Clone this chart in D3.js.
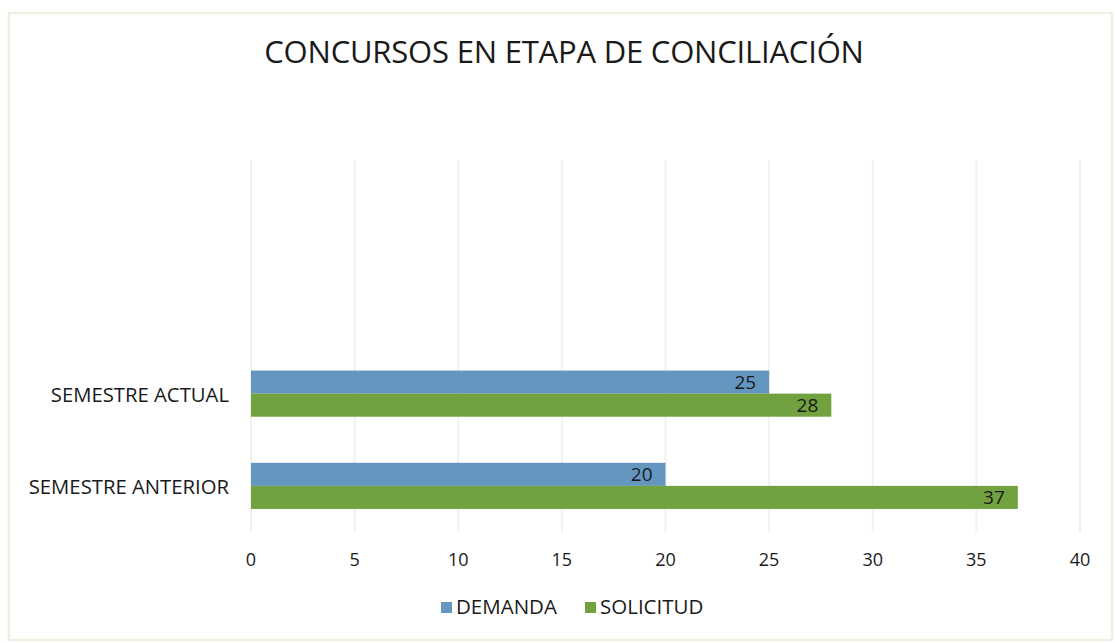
<!DOCTYPE html>
<html>
<head>
<meta charset="utf-8">
<script src="https://cdn.jsdelivr.net/npm/d3@7"></script>
<style>
	body { margin: 0; background: #fff; }
	text { font-family: "Open Sans", "Noto Sans", sans-serif; fill: #1a1a1a; }
</style>
</head>
<body>
<div id="chart"></div>
<script>
var title = "CONCURSOS EN ETAPA DE CONCILIACIÓN";
var categories = ["SEMESTRE ACTUAL", "SEMESTRE ANTERIOR"];
var seriesNames = ["DEMANDA", "SOLICITUD"];
var demanda = [25, 20];
var solicitud = [28, 37];
var xTicks = [0, 5, 10, 15, 20, 25, 30, 35, 40];
var colors = ["#6496c0", "#72a13f"];

var width = 1115, height = 643;
var svg = d3.select("#chart").append("svg")
	.attr("width", width)
	.attr("height", height);

// frame of the scanned chart
svg.append("rect")
	.attr("x", 9).attr("y", 13)
	.attr("width", width - 12).attr("height", height - 16)
	.attr("fill", "none")
	.attr("stroke", "#eef0e2")
	.attr("stroke-width", 2.5);

svg.append("text")
	.attr("x", 564).attr("y", 63)
	.attr("text-anchor", "middle")
	.attr("font-size", 31)
	.attr("letter-spacing", -0.2)
	.text(title);

var plot = {left: 251, right: 1080, top: 163, bottom: 532};

var x = d3.scaleLinear()
	.domain([0, 40])
	.range([plot.left, plot.right]);

// the original chart keeps two empty category slots above the bars
var slots = ["_a", "_b"].concat(categories);
var y = d3.scaleBand()
	.domain(slots)
	.range([plot.top, plot.bottom])
	.paddingInner(0.5)
	.paddingOuter(0.25);
var ySub = d3.scaleBand()
	.domain(seriesNames)
	.range([0, y.bandwidth()]);

// gridlines
svg.append("g")
	.selectAll("line")
	.data(xTicks)
	.enter()
		.append("line")
		.attr("x1", function(d) { return x(d); })
		.attr("x2", function(d) { return x(d); })
		.attr("y1", plot.top - 3)
		.attr("y2", plot.bottom)
		.attr("stroke", "#f1f2e8")
		.attr("stroke-width", 2);

// x tick labels
svg.append("g")
	.selectAll("text")
	.data(xTicks)
	.enter()
		.append("text")
		.attr("x", function(d) { return x(d); })
		.attr("y", 566)
		.attr("text-anchor", "middle")
		.attr("font-size", 18)
		.attr("fill", "#333")
		.text(function(d) { return d; });

// category labels
svg.append("g")
	.selectAll("text")
	.data(categories)
	.enter()
		.append("text")
		.attr("x", 229)
		.attr("y", function(d) { return y(d) + y.bandwidth() / 2 + 8; })
		.attr("text-anchor", "end")
		.attr("font-size", 20.3)
		.text(function(d) { return d; });

var rows = [];
categories.forEach(function(c, i) {
	rows.push({cat: c, series: seriesNames[0], value: demanda[i], color: colors[0]});
	rows.push({cat: c, series: seriesNames[1], value: solicitud[i], color: colors[1]});
});

var bars = svg.append("g")
	.selectAll("g")
	.data(rows)
	.enter()
		.append("g");
bars.append("rect")
	.attr("x", x(0))
	.attr("y", function(d) { return y(d.cat) + ySub(d.series); })
	.attr("width", function(d) { return x(d.value) - x(0); })
	.attr("height", ySub.bandwidth())
	.attr("fill", function(d) { return d.color; });
bars.append("text")
	.attr("x", function(d) { return x(d.value) - 13; })
	.attr("y", function(d) { return y(d.cat) + ySub(d.series) + ySub.bandwidth() / 2 + 7; })
	.attr("text-anchor", "end")
	.attr("font-size", 19)
	.attr("fill", "#333")
	.text(function(d) { return d.value; });

// legend
var legendPos = [441, 585];
var legend = svg.append("g")
	.selectAll("g")
	.data(seriesNames)
	.enter()
		.append("g")
		.attr("transform", function(d, i) { return "translate(" + legendPos[i] + ",602)"; });
legend.append("rect")
	.attr("width", 11).attr("height", 11)
	.attr("fill", function(d, i) { return colors[i]; });
legend.append("text")
	.attr("x", 15).attr("y", 12)
	.attr("font-size", 20.5)
	.text(function(d) { return d; });
</script>
</body>
</html>
